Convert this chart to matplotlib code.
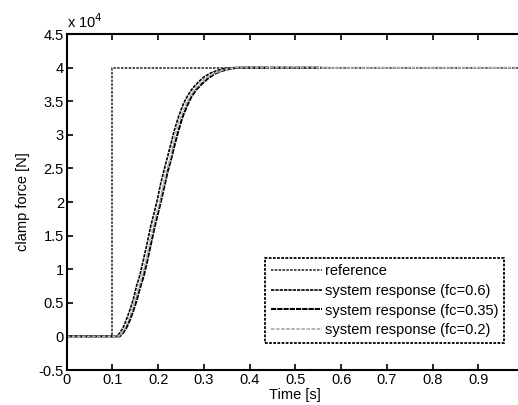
import matplotlib
matplotlib.use("Agg")
import matplotlib.pyplot as plt
from matplotlib.ticker import FuncFormatter

plt.rcParams['font.family'] = ['Liberation Sans', 'DejaVu Sans']

# reference step (force in N)
t_ref = [0.0, 0.1, 0.1, 1.0]
f_ref = [0, 0, 40000, 40000]

# fc = 0.6 (slightly faster)
t_06 = [0.0, 0.110, 0.117, 0.124, 0.131, 0.139, 0.146, 0.153, 0.160, 0.167, 0.175, 0.183,
        0.190, 0.198, 0.205, 0.213, 0.220, 0.228, 0.235, 0.245, 0.255, 0.265, 0.275,
        0.287, 0.300, 0.315, 0.330, 0.345, 0.365, 0.44]
f_06 = [0, 0, 600, 1400, 2600, 4100, 5600, 7600, 9100, 11200, 13600, 16200,
        18100, 20300, 22600, 24800, 26600, 28700, 30600, 32800, 34600, 35900, 36900,
        37800, 38600, 39200, 39600, 39850, 40000, 40000]

# fc = 0.35 (slightly slower)
t_035 = [0.0, 0.116, 0.123, 0.130, 0.138, 0.146, 0.153, 0.161, 0.168, 0.175, 0.183, 0.191,
         0.198, 0.206, 0.213, 0.221, 0.228, 0.236, 0.243, 0.253, 0.263, 0.273, 0.283,
         0.296, 0.309, 0.324, 0.339, 0.355, 0.375, 0.557]
f_035 = [0, 0, 500, 1200, 2400, 3900, 5400, 7400, 8900, 10900, 13400, 15900,
         17900, 20100, 22200, 24600, 26300, 28500, 30300, 32600, 34300, 35700, 36700,
         37600, 38400, 39100, 39500, 39800, 40000, 40000]

# fc = 0.2
t_02 = [0.0, 0.113, 0.120, 0.127, 0.135, 0.143, 0.150, 0.158, 0.165, 0.172, 0.180, 0.188,
        0.195, 0.203, 0.210, 0.218, 0.225, 0.233, 0.240, 0.250, 0.260, 0.270, 0.280,
        0.292, 0.305, 0.320, 0.335, 0.350, 0.370, 1.0]
f_02 = [0, 0, 500, 1300, 2500, 4000, 5500, 7500, 9000, 11000, 13500, 16000,
        18000, 20000, 22200, 24700, 26200, 28800, 30800, 32800, 34500, 35800, 36800,
        37700, 38500, 39100, 39500, 39800, 40000, 40000]

fig = plt.figure(figsize=(5.18, 4.05), dpi=100)
ax = fig.add_axes([0.1288, 0.0864, 0.8828, 0.8296])

ax.plot(t_ref, f_ref, color='#303030', lw=1.2, ls=(0, (1.5, 0.8)), label='reference')
ax.plot(t_06, f_06, color='black', lw=1.2, ls=(0, (2, 0.6)), label='system response (fc=0.6)')
ax.plot(t_035, f_035, color='black', lw=1.5, ls=(0, (2.5, 0.5)), label='system response (fc=0.35)')
ax.plot(t_02, f_02, color='#b0b0b0', lw=1.3, ls=(0, (2, 0.8)), label='system response (fc=0.2)')

ax.set_xlim(0, 1.0)
ax.set_ylim(-5000, 45000)
ax.set_xticks([0, 0.1, 0.2, 0.3, 0.4, 0.5, 0.6, 0.7, 0.8, 0.9])
ax.set_xticklabels(['0', '0.1', '0.2', '0.3', '0.4', '0.5', '0.6', '0.7', '0.8', '0.9'])
ax.set_yticks([-5000 + 5000 * i for i in range(11)])
ax.yaxis.set_major_formatter(FuncFormatter(lambda v, p: '%g' % (v / 1e4)))
ax.tick_params(direction='in', top=True, right=True, length=4, width=1.2,
               labelsize=10.5, pad=2)
for s in ax.spines.values():
    s.set_linewidth(1.5)

ax.set_xlabel('Time [s]', fontsize=10.5, labelpad=1)
ax.set_ylabel('clamp force [N]', fontsize=10.5, labelpad=6)
ax.text(0.0, 1.01, 'x 10$^4$', transform=ax.transAxes, fontsize=10.5, ha='left', va='bottom')

leg = ax.legend(loc='lower right', bbox_to_anchor=(0.972, 0.058), fontsize=10.5,
                handlelength=3.5, handletextpad=0.2, labelspacing=0.4,
                borderpad=0.4, fancybox=False, framealpha=1)
leg.get_frame().set_edgecolor('black')
leg.get_frame().set_linewidth(1.3)
leg.get_frame().set_linestyle((0, (1.5, 0.8)))

fig.savefig('out.png', dpi=100)
